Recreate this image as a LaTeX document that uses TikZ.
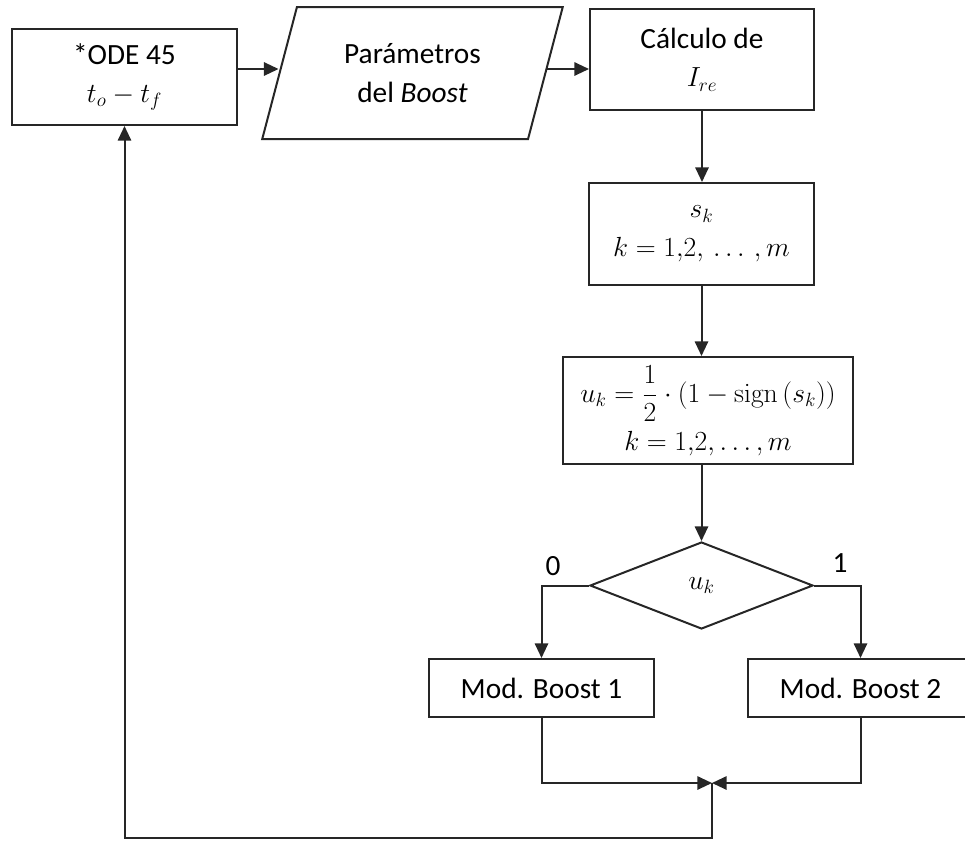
\documentclass[tikz,border=0pt]{standalone}
\usepackage[no-math]{fontspec}
\setmainfont{Carlito}
\usetikzlibrary{arrows.meta,shapes.geometric}
\begin{document}
\begin{tikzpicture}[x=0.75pt,y=-0.75pt,
  box/.style={draw=black!85,line width=1.5pt,align=center,inner sep=0pt,font=\fontsize{22}{29}\selectfont},
  lbl/.style={font=\fontsize{22}{29}\selectfont},
  arr/.style={draw=black!85,line width=1.5pt,-{Triangle[length=11pt,width=10pt]}}]
\useasboundingbox (0,0) rectangle (965,840);
\node[box,minimum width=168.75pt,minimum height=72pt] (ode) at (124.5,77) {*ODE 45\\$t_o-t_f$};
\node[box,trapezium,trapezium left angle=70.8,trapezium right angle=109.2,trapezium stretches=true,
  minimum width=225.75pt,minimum height=99pt] (param) at (412.5,73) {Parámetros\\del \textit{Boost}};
\node[box,minimum width=168pt,minimum height=75.75pt] (calc) at (702,59.5) {Cálculo de\\$I_{re}$};
\node[box,minimum width=168.75pt,minimum height=76.5pt] (sk) at (701.5,234) {$s_k$\\$k=1{,}2,\,\ldots\,,m$};
\node[box,minimum width=217.5pt,minimum height=80.25pt] (uk) at (708,410.5)
  {$\displaystyle u_k={1\over 2}\cdot(1-\mathrm{sign}\,(s_k))$\\[7pt]$k=1{,}2,\ldots,m$};
\node[box,diamond,minimum width=167.25pt,minimum height=65.25pt] (dec) at (701.5,585.5) {$u_k$};
\node[box,minimum width=168.75pt,minimum height=43.5pt] (b1) at (541.5,688) {Mod. Boost 1};
\node[box,minimum width=168.75pt,minimum height=43.5pt] (b2) at (860.5,688) {Mod. Boost 2};
\node[lbl] (lbl0) at (553,566) {0};
\node[lbl] (lbl1) at (840,563) {1};
\coordinate (row) at (0,69);
\coordinate (join) at (712,783);
\coordinate (bot) at (712,838);
\draw[arr] (ode.east |- row) -- (param.west |- row);
\draw[arr] (param.east |- row) -- (calc.west |- row);
\draw[arr] (calc.south) -- (calc.south |- sk.north);
\draw[arr] (sk.south) -- (sk.south |- uk.north);
\draw[arr] (dec.north |- uk.south) -- (dec.north);
\draw[arr] (dec.west) -| (b1.north);
\draw[arr] (dec.east) -| (b2.north);
\draw[arr] (b1.south) |- (join);
\draw[arr] (b2.south) |- (join);
\draw[arr] (join) -- (bot) -| (ode.south);
\end{tikzpicture}
\end{document}
